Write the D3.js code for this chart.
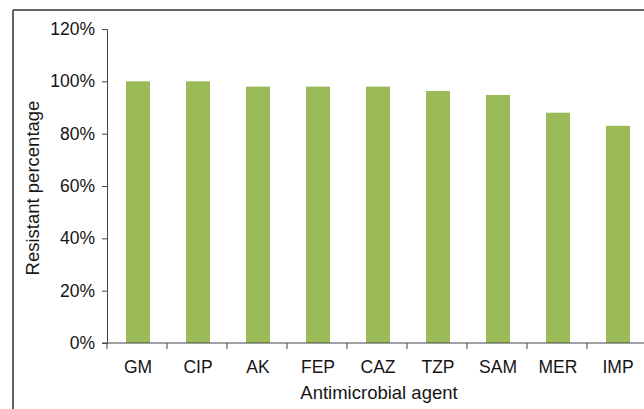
<!DOCTYPE html>
<html>
<head>
<meta charset="utf-8">
<script src="https://cdn.jsdelivr.net/npm/d3@7"></script>
<style>
  body { margin: 0; background: #fff; }
  svg { display: block; }
  text { font-family: "Liberation Sans", Arial, sans-serif; fill: #151515; }
</style>
</head>
<body>
<div id="graph"></div>
<script>
var agents = ["GM", "CIP", "AK", "FEP", "CAZ", "TZP", "SAM", "MER", "IMP"];
var resistant = [100, 100, 98, 98, 98, 96.3, 94.8, 88, 83];
var yTicks = [0, 20, 40, 60, 80, 100, 120];

var width = 644, height = 409;
var margins = { left: 107, top: 29, right: -3, bottom: 66 };
var innerW = width - margins.left - margins.right;
var innerH = height - margins.top - margins.bottom;

var svg = d3.select("#graph").append("svg")
    .attr("width", width)
    .attr("height", height);

// frame around the figure (only left and top edges visible)
svg.append("line")
    .attr("x1", 13).attr("y1", 10).attr("x2", 13).attr("y2", height)
    .attr("stroke", "#333").attr("stroke-width", 1.5);
svg.append("line")
    .attr("x1", 13).attr("y1", 10).attr("x2", width).attr("y2", 10)
    .attr("stroke", "#333").attr("stroke-width", 1.5);

var g = svg.append("g")
    .attr("transform", "translate(" + margins.left + "," + margins.top + ")");

var x = d3.scaleBand().domain(agents).range([0, innerW]).paddingInner(0).paddingOuter(0);
var y = d3.scaleLinear().domain([0, 120]).range([innerH, 0]);

var barW = 24;

g.selectAll("rect.bar")
    .data(resistant)
    .enter().append("rect")
    .attr("class", "bar")
    .attr("x", function(d, i) { return x(agents[i]) + x.bandwidth() / 2 - barW / 2 + 1; })
    .attr("y", function(d) { return y(d); })
    .attr("width", barW)
    .attr("height", function(d) { return innerH - y(d); })
    .attr("fill", "#9bbb59");

// y axis
var yAxis = g.append("g")
    .call(d3.axisLeft(y).tickValues(yTicks).tickSizeOuter(0).tickSize(5)
        .tickFormat(function(d) { return d + "%"; }));
yAxis.select(".domain").attr("stroke", "#444");
yAxis.selectAll(".tick line").attr("stroke", "#444");
yAxis.selectAll(".tick text")
    .attr("x", -12)
    .style("font-size", "17.5px")
    .style("font-family", "'Liberation Sans', Arial, sans-serif")
    .attr("fill", "#151515");

// x axis with ticks between categories
var xAxis = g.append("g").attr("transform", "translate(0," + innerH + ")");
xAxis.append("line")
    .attr("x1", -5).attr("x2", innerW)
    .attr("stroke", "#444");
xAxis.selectAll("line.sep")
    .data(agents)
    .enter().append("line")
    .attr("class", "sep")
    .attr("x1", function(d) { return x(d); })
    .attr("x2", function(d) { return x(d); })
    .attr("y1", 0).attr("y2", 6)
    .attr("stroke", "#444");
xAxis.selectAll("text.lab")
    .data(agents)
    .enter().append("text")
    .attr("class", "lab")
    .attr("x", function(d) { return x(d) + x.bandwidth() / 2 + 1; })
    .attr("y", 30)
    .attr("text-anchor", "middle")
    .style("font-size", "17.5px")
    .text(function(d) { return d; });

// axis titles
svg.append("text")
    .attr("x", 379)
    .attr("y", 399)
    .attr("text-anchor", "middle")
    .style("font-size", "18.5px")
    .text("Antimicrobial agent");

svg.append("text")
    .attr("transform", "translate(39," + 188 + ") rotate(-90)")
    .attr("text-anchor", "middle")
    .style("font-size", "18.5px")
    .text("Resistant percentage");
</script>
</body>
</html>
